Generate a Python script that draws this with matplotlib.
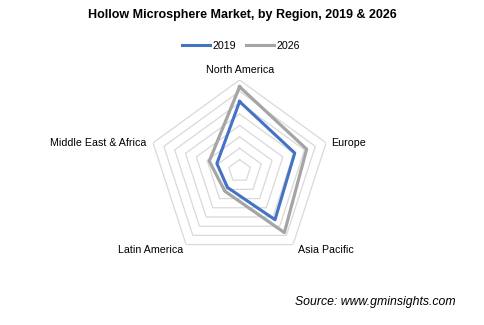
import numpy as np
import matplotlib.pyplot as plt
from matplotlib.lines import Line2D

plt.rcParams['font.family'] = ['Liberation Sans', 'DejaVu Sans']

regions = ['North America', 'Europe', 'Asia Pacific', 'Latin America', 'Middle East & Africa']
v2019 = [305, 255, 265, 90, 105]
v2026 = [370, 310, 335, 110, 140]
rings = [50, 100, 150, 200, 250, 300, 350, 400]

n = len(regions)
theta = np.linspace(0, 2 * np.pi, n, endpoint=False)
theta_c = np.append(theta, theta[0])

fig = plt.figure(figsize=(4.84, 3.25), dpi=100)
ax = fig.add_axes([0.495 - 0.188, 0.474 - 0.28, 0.376, 0.56], projection='polar')
ax.set_theta_offset(np.pi / 2)
ax.set_theta_direction(-1)
ax.set_ylim(0, rings[-1])
ax.grid(False)
ax.spines['polar'].set_visible(False)
ax.set_xticks([])
ax.set_yticks([])
ax.patch.set_alpha(0)

# pentagon gridlines
for r in rings:
    ax.plot(theta_c, [r] * (n + 1), color='#d9d9d9', lw=0.9, zorder=1)

ax.plot(theta_c, v2019 + v2019[:1], color='#4472c4', lw=2.2, zorder=3,
        solid_joinstyle='round')
ax.plot(theta_c, v2026 + v2026[:1], color='#a5a5a5', lw=2.3, zorder=2,
        solid_joinstyle='round')

# category labels
fs = 7.7
fig.text(240 / 484, 1 - 70 / 325, regions[0], ha='center', va='center', fontsize=fs)
fig.text(331.5 / 484, 1 - 143 / 325, regions[1], ha='left', va='center', fontsize=fs)
fig.text(298 / 484, 1 - 250 / 325, regions[2], ha='left', va='center', fontsize=fs)
fig.text(183 / 484, 1 - 250 / 325, regions[3], ha='right', va='center', fontsize=fs)
fig.text(146.5 / 484, 1 - 143 / 325, regions[4], ha='right', va='center', fontsize=fs)

fig.text(0.5, 1 - 15 / 325, 'Hollow Microsphere Market, by Region, 2019 & 2026',
         ha='center', va='center', fontsize=9, fontweight='bold')

handles = [Line2D([0], [0], color='#4472c4', lw=2.2),
           Line2D([0], [0], color='#a5a5a5', lw=2.2)]
fig.legend(handles, ['2019', '2026'], loc='center', bbox_to_anchor=(241 / 484, 1 - 46 / 325),
           ncol=2, frameon=False, fontsize=fs, handlelength=2.6, handletextpad=0.2,
           columnspacing=1.0)

fig.text(455.5 / 484, 1 - 302 / 325, 'Source: www.gminsights.com', ha='right', va='center',
         fontsize=8.8, style='italic')

fig.savefig('out.png', dpi=100)
